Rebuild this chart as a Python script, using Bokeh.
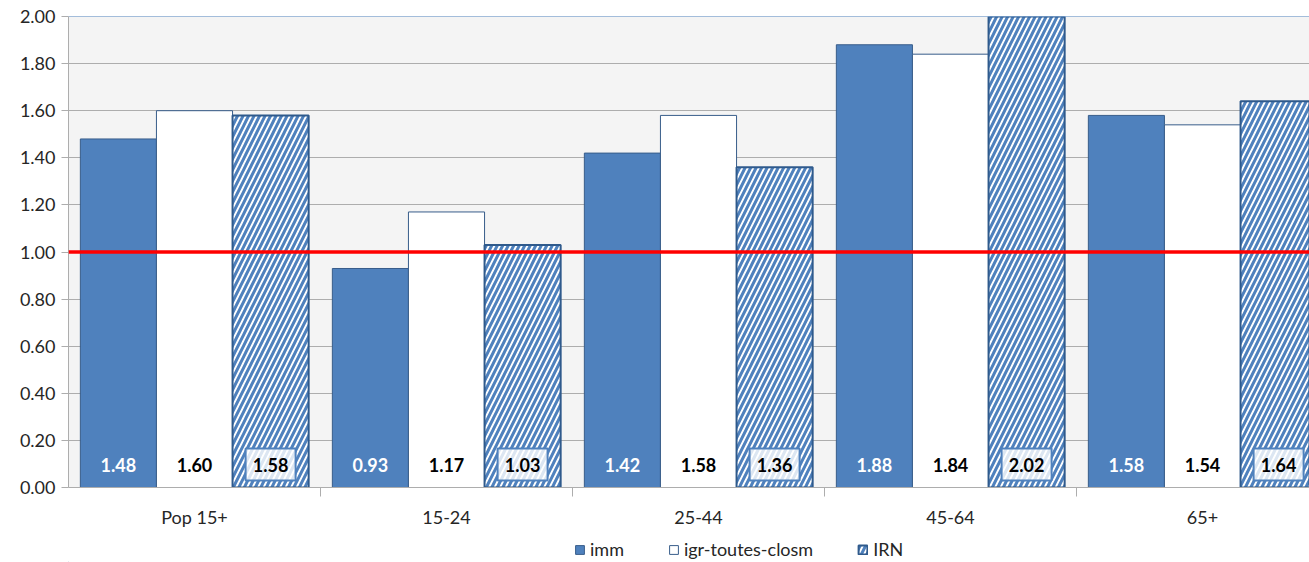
import numpy as np
from bokeh.plotting import figure
from bokeh.layouts import column
from bokeh.models import (ColumnDataSource, FixedTicker, Span, LabelSet, Legend,
                          LegendItem, NumeralTickFormatter, Range1d)
from bokeh.embed import file_html
from bokeh.resources import INLINE
from bokeh.core.properties import value

# ---------------- data ----------------
categories = ["Pop 15+", "15-24", "25-44", "45-64", "65+"]
series_names = ["imm", "igr-toutes-closm", "IRN"]
imm = [1.48, 0.93, 1.42, 1.88, 1.58]
igr = [1.60, 1.17, 1.58, 1.84, 1.54]
irn = [1.58, 1.03, 1.36, 2.02, 1.64]
reference_level = 1.0
y_ticks = [0.0, 0.2, 0.4, 0.6, 0.8, 1.0, 1.2, 1.4, 1.6, 1.8, 2.0]

# ---------------- styling ----------------
FONT = "Lato"
BLUE = "#4F81BD"
DARK = "#385D8A"
IRN_EDGE = "#2F5A8C"
GRID = "#ADADAD"
TXT = "#262626"

W = 1309
H_MAIN = 530
H_LEG = 32
LEFT = 68
TOP = 16
FRAME_H = 472
cat_px = 252
n = len(categories)
centers = np.arange(n) + 0.5
bar_w = 0.302
x_end = (W - LEFT) / cat_px
label_px = 23  # label centre height above the bar base, in pixels
label_y = y_ticks[0] + label_px * (y_ticks[-1] - y_ticks[0]) / FRAME_H

p = figure(width=W, height=H_MAIN, output_backend="svg", toolbar_location=None,
           x_range=Range1d(0, x_end), y_range=Range1d(y_ticks[0], y_ticks[-1]),
           min_border_left=LEFT, min_border_right=0, min_border_top=TOP,
           min_border_bottom=H_MAIN - TOP - FRAME_H)
p.background_fill_color = "#F4F4F4"
p.border_fill_color = "white"
p.outline_line_color = None

src = ColumnDataSource(dict(
    x_imm=centers - bar_w, x_igr=centers, x_irn=centers + bar_w,
    imm=imm, igr=igr, irn=irn,
    t_imm=[f"{v:.2f}" for v in imm],
    t_igr=[f"{v:.2f}" for v in igr],
    t_irn=[f"{v:.2f}" for v in irn],
    ly=[label_y] * n,
))

style_imm = dict(fill_color=BLUE, line_color=DARK, line_width=1)
style_igr = dict(fill_color="white", line_color=DARK, line_width=1)
style_irn = dict(fill_color="white", line_color=IRN_EDGE, line_width=2,
                 hatch_pattern="right_diagonal_line", hatch_color=BLUE,
                 hatch_scale=11, hatch_weight=3)

p.vbar(x="x_imm", top="imm", width=bar_w, source=src, **style_imm)
p.vbar(x="x_igr", top="igr", width=bar_w, source=src, **style_igr)
p.vbar(x="x_irn", top="irn", width=bar_w, source=src, **style_irn)

# reference line and top border
p.add_layout(Span(location=reference_level, dimension="width",
                  line_color="#FF0000", line_width=3.5))
p.add_layout(Span(location=y_ticks[-1], dimension="width",
                  line_color=BLUE, line_width=1))

# label box for IRN values
p.rect(x="x_irn", y="ly", width=50, height=32, width_units="screen",
       height_units="screen", source=src, fill_color="white", fill_alpha=0.8,
       line_color=BLUE, line_width=2)

# value labels
common = dict(source=src, y="ly", text_align="center",
              text_baseline="middle", text_font=value(FONT),
              text_font_style="bold", text_font_size="18px")
p.add_layout(LabelSet(x="x_imm", text="t_imm", text_color="white", **common))
p.add_layout(LabelSet(x="x_igr", text="t_igr", text_color="black", **common))
p.add_layout(LabelSet(x="x_irn", text="t_irn", text_color="black", **common))

# axes
p.xgrid.grid_line_color = None
p.ygrid.grid_line_color = GRID
p.ygrid.ticker = FixedTicker(ticks=y_ticks)

ya = p.yaxis[0]
ya.ticker = FixedTicker(ticks=y_ticks)
ya.formatter = NumeralTickFormatter(format="0.00")
ya.axis_line_color = GRID
ya.major_tick_line_color = GRID
ya.major_tick_out = 7
ya.major_tick_in = 0
ya.minor_tick_line_color = None
ya.major_label_text_font = FONT
ya.major_label_text_font_size = "18px"
ya.major_label_text_color = TXT
ya.major_label_standoff = 6

xa = p.xaxis[0]
xa.ticker = FixedTicker(ticks=list(centers), minor_ticks=list(np.arange(1, n + 1)))
xa.major_label_overrides = {float(c): lab for c, lab in zip(centers, categories)}
xa.axis_line_color = GRID
xa.major_tick_out = 0
xa.major_tick_in = 0
xa.major_tick_line_color = None
xa.minor_tick_line_color = GRID
xa.minor_tick_out = 9
xa.minor_tick_in = 0
xa.major_label_text_font = FONT
xa.major_label_text_font_size = "18px"
xa.major_label_text_color = TXT
xa.major_label_standoff = 9

# ---------------- legend strip ----------------
q = figure(width=W, height=H_LEG, output_backend="svg", toolbar_location=None,
           x_range=Range1d(0, 1), y_range=Range1d(0, 1),
           x_axis_location=None, y_axis_location=None, min_border=0)
q.grid.visible = False
q.outline_line_color = None
q.background_fill_color = "white"
# legend proxies: one swatch each, placed outside the visible range
proxy = ColumnDataSource(dict(x=[-5.0], top=[0.0]))
l_imm = q.vbar(x="x", top="top", width=0.1, source=proxy, **style_imm)
l_igr = q.vbar(x="x", top="top", width=0.1, source=proxy, **style_igr)
l_irn = q.vbar(x="x", top="top", width=0.1, source=proxy, **style_irn)

legend = Legend(items=[LegendItem(label=nm, renderers=[r])
                       for nm, r in zip(series_names, [l_imm, l_igr, l_irn])],
                orientation="horizontal", location=(506, 2),
                border_line_color=None, background_fill_alpha=0,
                label_text_font=FONT, label_text_font_size="18px",
                label_text_color=TXT, glyph_width=11, glyph_height=11,
                spacing=44, label_standoff=5, padding=0, margin=0)
q.add_layout(legend, "center")

layout = column(p, q, spacing=0)
open("out.html", "w").write(file_html(layout, INLINE))
